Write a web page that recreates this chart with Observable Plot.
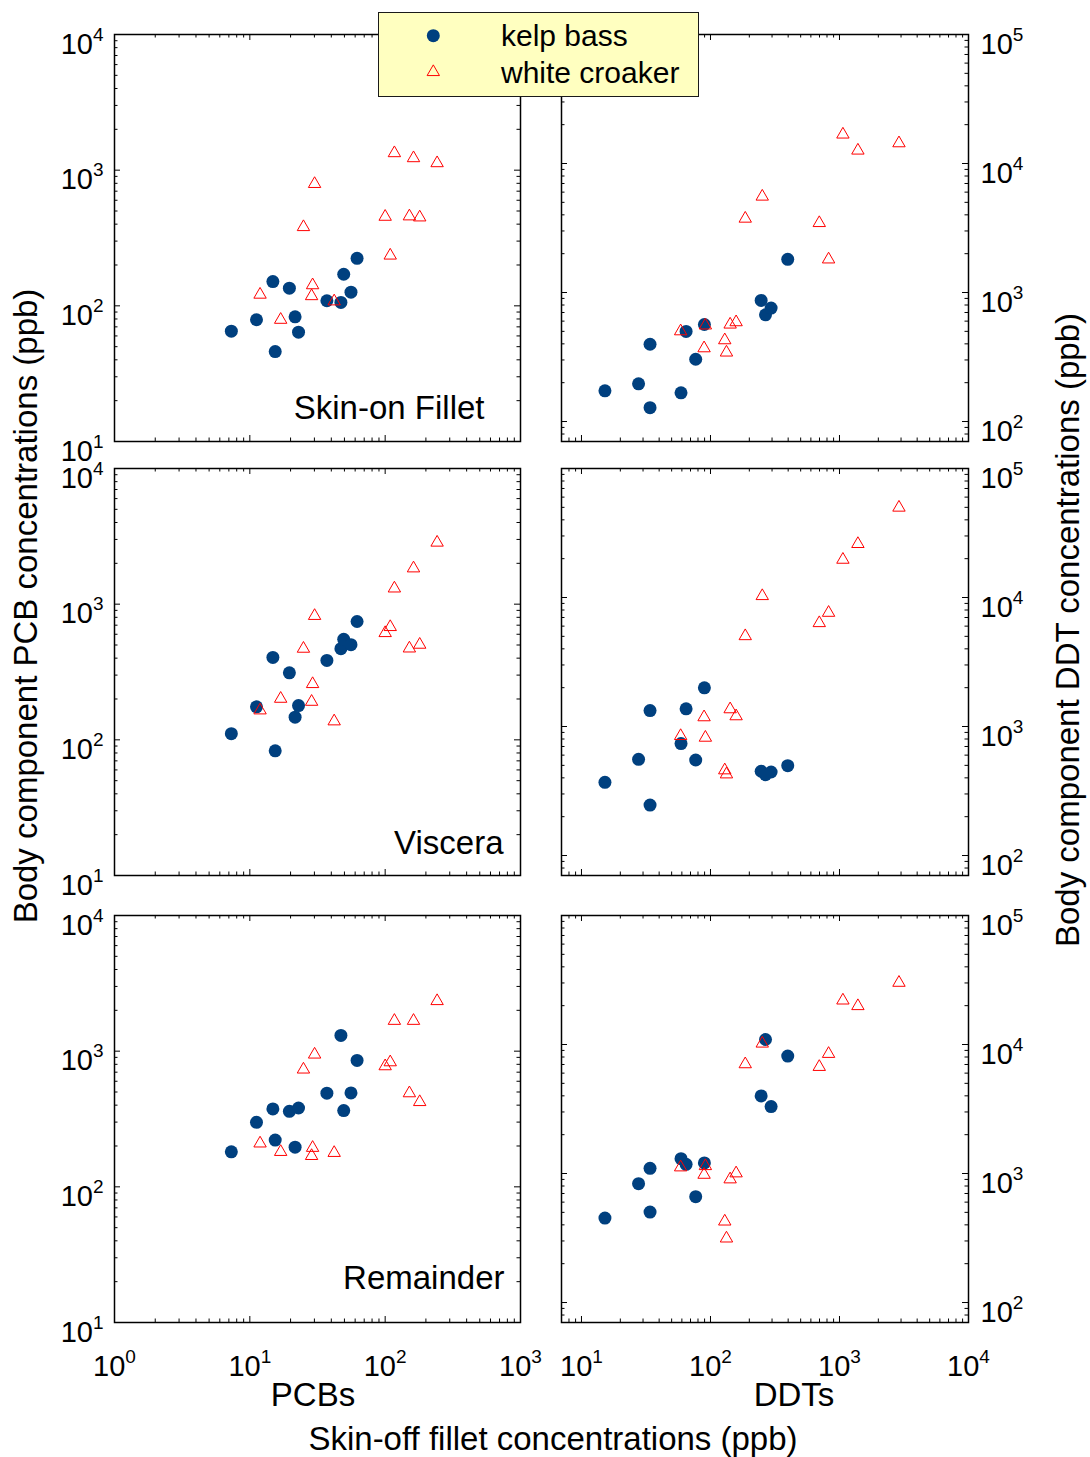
<!DOCTYPE html>
<html>
<head>
<meta charset="utf-8">
<script src="https://cdn.jsdelivr.net/npm/d3@7"></script>
<script src="https://cdn.jsdelivr.net/npm/@observablehq/plot@0.6"></script>
<style>
  body { margin: 0; background: #fff; }
  #chart { position: relative; width: 1090px; height: 1457px; background: #fff; overflow: hidden;
           font-family: "Liberation Sans", Arial, Helvetica, sans-serif; color: #000; }
  #chart svg { position: absolute; overflow: visible; max-width: none; }
</style>
</head>
<body>
<div id="chart"></div>
<script>
// ---------------- data ----------------
// PCBs column: skin-off fillet concentration (x) and body-component concentrations (y)
const pcbKelpX          = [7.3, 11.2, 14.8, 15.4, 19.6, 21.6, 22.9, 37.1, 47.1, 49.4, 55.9, 62.0];
const pcbKelpSkinOn     = [65, 79, 151, 46, 135, 83, 64, 109, 106, 171, 126, 224];
const pcbKelpViscera    = [111, 175, 405, 83, 312, 147, 179, 385, 470, 551, 503, 745];
const pcbKelpRemainder  = [181, 299, 375, 221, 360, 196, 381, 490, 1306, 365, 492, 854];

const pcbCroakerX         = [11.9, 16.9, 24.9, 28.6, 29.1, 30.1, 42.0, 100, 109, 117, 151, 162, 180, 242];
const pcbCroakerSkinOn    = [121, 79, 381, 118, 142, 792, 108, 454, 235, 1336, 457, 1227, 449, 1127];
const pcbCroakerViscera   = [165, 201, 470, 191, 258, 820, 137, 613, 679, 1307, 472, 1838, 503, 2845];
const pcbCroakerRemainder = [209, 181, 733, 169, 194, 945, 178, 775, 829, 1675, 490, 1675, 422, 2342];

// DDTs column
const ddtKelpX          = [15.2, 27.7, 34.0, 34.0, 59.1, 64.7, 76.8, 89.7, 247, 267, 295, 397];
const ddtKelpSkinOn     = [173, 196, 397, 128, 167, 499, 304, 565, 869, 672, 757, 1807];
const ddtKelpViscera    = [369, 557, 1329, 246, 737, 1370, 550, 1994, 450, 423, 444, 497];
const ddtKelpRemainder  = [451, 834, 1097, 502, 1303, 1179, 661, 1207, 3996, 10940, 3301, 8128];

const ddtCroakerX         = [58.7, 89.2, 91.3, 129, 133, 142, 158, 186, 252, 697, 823, 1063, 1389, 2891];
const ddtCroakerSkinOn    = [501, 370, 556, 427, 343, 565, 589, 3741, 5546, 3459, 1807, 16790, 12610, 14370];
const ddtCroakerViscera   = [845, 1181, 820, 458, 426, 1362, 1202, 5023, 10270, 6339, 7620, 19650, 26020, 49790];
const ddtCroakerRemainder = [1117, 979, 1143, 425, 314, 902, 1004, 7041, 10180, 6711, 8469, 21960, 19870, 30130];

// panel names, series names, axis ticks and domains
const tissues     = ["Skin-on Fillet", "Viscera", "Remainder"];
const speciesKelp = "kelp bass";
const speciesCroaker = "white croaker";
const pcbXTicks = [1, 10, 100, 1000];
const pcbYTicks = [10, 100, 1000, 10000];
const ddtXTicks = [10, 100, 1000, 10000];
const ddtYTicks = [100, 1000, 10000, 100000];
const pcbXDomain = [1, 1000];
const pcbYDomain = [10, 10000];
const ddtXDomain = [7, 10000];
const ddtYDomain = [70, 100000];

// ---------------- styling / layout ----------------
const FONT = '"Liberation Sans", Arial, Helvetica, sans-serif';
const kelpColor = "#00407f";
const croakerColor = "#ff0000";
const rowTops  = [33.5, 467.5, 914.5];
const colLefts = [114, 561];
const frameW   = [406, 407];
const frameH   = 407;
const M = 12;
const majorLen = 6, minorLen = 3.5;
const labelOffsets = [[-36, -23], [-17, -22], [-16, -34]];

const chart = document.getElementById("chart");

function fmtPow(d) { return "10^" + Math.round(Math.log10(d)); }
function isPow10(v) { const l = Math.log10(v); return Math.abs(l - Math.round(l)) < 1e-9; }

function superscripts(svg) {
  d3.select(svg).selectAll("text").each(function () {
    const m = /^10\^(-?\d+)$/.exec(this.textContent);
    if (!m) return;
    const t = d3.select(this);
    t.text("10");
    t.append("tspan").attr("dy", -13).attr("font-size", 19).text(m[1]);
  });
}

function panel(col, row) {
  const isPcb = col === 0;
  const xDomain = isPcb ? pcbXDomain : ddtXDomain;
  const yDomain = isPcb ? pcbYDomain : ddtYDomain;
  const xTicks = isPcb ? pcbXTicks : ddtXTicks;
  const yTicks = isPcb ? pcbYTicks : ddtYTicks;
  const kelpX = isPcb ? pcbKelpX : ddtKelpX;
  const croakerX = isPcb ? pcbCroakerX : ddtCroakerX;
  const kelpY = (isPcb ? [pcbKelpSkinOn, pcbKelpViscera, pcbKelpRemainder]
                       : [ddtKelpSkinOn, ddtKelpViscera, ddtKelpRemainder])[row];
  const croakerY = (isPcb ? [pcbCroakerSkinOn, pcbCroakerViscera, pcbCroakerRemainder]
                          : [ddtCroakerSkinOn, ddtCroakerViscera, ddtCroakerRemainder])[row];
  const kelp = kelpX.map((x, i) => ({x, y: kelpY[i], species: speciesKelp}));
  const croaker = croakerX.map((x, i) => ({x, y: croakerY[i], species: speciesCroaker}));

  const W = frameW[col], H = frameH;
  const xMinor = d3.scaleLog().domain(xDomain).ticks().filter(v => !isPow10(v));
  const yMinor = d3.scaleLog().domain(yDomain).ticks().filter(v => !isPow10(v));
  const tick = {stroke: "#000", strokeWidth: 1};
  const id = d => d;

  const marks = [
    Plot.ruleX(xMinor, {x: id, insetTop: H - minorLen, ...tick}),
    Plot.ruleX(xMinor, {x: id, insetBottom: H - minorLen, ...tick}),
    Plot.ruleX(xTicks, {x: id, insetTop: H - majorLen, ...tick}),
    Plot.ruleX(xTicks, {x: id, insetBottom: H - majorLen, ...tick}),
    Plot.ruleY(yMinor, {y: id, insetRight: W - minorLen, ...tick}),
    Plot.ruleY(yMinor, {y: id, insetLeft: W - minorLen, ...tick}),
    Plot.ruleY(yTicks, {y: id, insetRight: W - majorLen, ...tick}),
    Plot.ruleY(yTicks, {y: id, insetLeft: W - majorLen, ...tick}),
    Plot.dot(kelp, {x: "x", y: "y", r: 6.5, fill: kelpColor}),
    Plot.dot(croaker, {x: "x", y: "y", symbol: "triangle", r: 4.6, stroke: croakerColor, strokeWidth: 1, fill: "none"}),
    Plot.frame({stroke: "#000", strokeWidth: 1.5}),
    Plot.axisY(yTicks, {
      anchor: isPcb ? "left" : "right", tickSize: 0, tickPadding: isPcb ? 11 : 12,
      tickFormat: fmtPow, fontSize: 29, dy: 10, label: null
    })
  ];
  if (isPcb) {
    marks.push(Plot.text([tissues[row]], {
      text: id, frameAnchor: "bottom-right", textAnchor: "end", lineAnchor: "bottom",
      dx: labelOffsets[row][0], dy: labelOffsets[row][1], fontSize: 33, fill: "#000"
    }));
  }
  if (row === 2) {
    marks.push(Plot.axisX(xTicks, {
      anchor: "bottom", tickSize: 0, tickPadding: 33, tickFormat: fmtPow, fontSize: 29, label: null
    }));
  }

  const svg = Plot.plot({
    width: W + 2 * M, height: H + 2 * M,
    marginLeft: M, marginRight: M, marginTop: M, marginBottom: M,
    x: {type: "log", domain: xDomain, axis: null},
    y: {type: "log", domain: yDomain, axis: null},
    style: {background: "transparent", overflow: "visible", fontFamily: FONT, fontSize: "29px", color: "#000"},
    marks
  });
  superscripts(svg);
  svg.style.left = (colLefts[col] - M) + "px";
  svg.style.top = (rowTops[row] - M) + "px";
  chart.appendChild(svg);
}

for (let row = 0; row < 3; ++row) for (let col = 0; col < 2; ++col) panel(col, row);

// ---------------- titles (HTML text) ----------------
function addText(str, x, baseline, size, anchor = "middle", rotate = 0) {
  const outer = document.createElement("div");
  outer.style.cssText = `position:absolute;left:${x}px;top:${baseline}px;width:0;height:0;` +
    (rotate ? `transform:rotate(${rotate}deg);transform-origin:0 0;` : "");
  const inner = document.createElement("div");
  const tx = anchor === "middle" ? "-50%" : anchor === "end" ? "-100%" : "0";
  inner.style.cssText = `position:absolute;left:0;top:${-0.3465 * size}px;transform:translateX(${tx});` +
    `white-space:nowrap;line-height:0;font-size:${size}px;font-family:${FONT};color:#000;`;
  inner.textContent = str;
  outer.appendChild(inner);
  chart.appendChild(outer);
}

addText("PCBs", 313, 1406, 33);
addText("DDTs", 794, 1406, 33);
addText("Skin-off fillet concentrations (ppb)", 553, 1450, 33);
addText("Body component PCB concentrations (ppb)", 37, 606, 33, "middle", -90);
addText("Body component DDT concentrations (ppb)", 1079, 630, 33, "middle", -90);

// ---------------- legend ----------------
const lg = document.createElement("div");
lg.style.cssText = "position:absolute;left:378px;top:12px;width:321px;height:85px;box-sizing:border-box;" +
  "border:1.5px solid #1a1a1a;background:#ffffc0;";
chart.appendChild(lg);
const lsvg = d3.create("svg").attr("width", 1090).attr("height", 120)
  .style("left", "0px").style("top", "0px");
lsvg.append("circle").attr("cx", 433.3).attr("cy", 35.7).attr("r", 6.5).attr("fill", kelpColor);
lsvg.append("path").attr("transform", "translate(433.3,72)")
  .attr("d", d3.symbol(d3.symbolTriangle, Math.PI * 4.6 * 4.6)())
  .attr("fill", "none").attr("stroke", croakerColor).attr("stroke-width", 1);
chart.appendChild(lsvg.node());
addText(speciesKelp, 501, 46, 30, "start");
addText(speciesCroaker, 501, 83, 30, "start");
</script>
</body>
</html>
